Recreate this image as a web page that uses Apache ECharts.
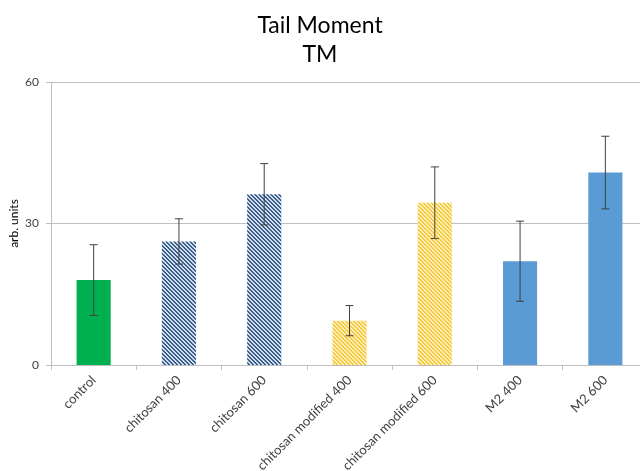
<!DOCTYPE html>
<html>
<head>
<meta charset="utf-8">
<script src="https://cdn.jsdelivr.net/npm/echarts@6/dist/echarts.min.js"></script>
<style>
  html, body { margin: 0; padding: 0; background: #fff; }
  #chart { width: 640px; height: 471px; }
</style>
</head>
<body>
<div id="chart"></div>
<script>
// Tail moment per treatment group, mean and error (±)
const categories = ['control', 'chitosan 400', 'chitosan 600', 'chitosan modified 400',
                    'chitosan modified 600', 'M2 400', 'M2 600'];
const means = [18.0, 26.2, 36.2, 9.4, 34.4, 22.0, 40.8];
const errors = [7.5, 4.8, 6.5, 3.2, 7.6, 8.5, 7.7];
const yTicks = [0, 30, 60];

// Diagonal hatch fill built on a small canvas tile
function hatch(dark, light) {
  const size = 4;
  const c = document.createElement('canvas');
  c.width = size; c.height = size;
  const ctx = c.getContext('2d');
  ctx.fillStyle = light;
  ctx.fillRect(0, 0, size, size);
  ctx.fillStyle = dark;
  for (let i = 0; i < size; i++) {
    ctx.fillRect(i, i, 1, 1);
    ctx.fillRect((i + 1) % size, i, 1, 1);
  }
  return { image: c, repeat: 'repeat' };
}

const blueHatch = hatch('#3a5f8c', '#d3deec');
const yellowHatch = hatch('#f5c842', '#fff0b8');
const fills = ['#00b050', blueHatch, blueHatch, yellowHatch, yellowHatch, '#5b9bd5', '#5b9bd5'];

const font = 'Lato, "Open Sans", sans-serif';

const chart = echarts.init(document.getElementById('chart'), null, { renderer: 'canvas' });
chart.setOption({
  animation: false,
  backgroundColor: '#ffffff',
  title: {
    text: 'Tail Moment\nTM',
    left: 'center',
    top: 6,
    textStyle: { fontFamily: font, fontSize: 23, fontWeight: 'normal', color: '#000', lineHeight: 29 }
  },
  grid: { left: 51, top: 82, right: -8, bottom: 106, containLabel: false, outerBoundsMode: 'none' },
  xAxis: {
    type: 'category',
    data: categories,
    axisLine: { lineStyle: { color: '#bfbfbf' } },
    axisTick: { show: true, length: 5, lineStyle: { color: '#bfbfbf' }, alignWithLabel: false },
    axisLabel: { rotate: 45, interval: 0, margin: 13, color: '#404040', fontFamily: font, fontSize: 13 }
  },
  yAxis: {
    type: 'value',
    min: yTicks[0],
    max: yTicks[yTicks.length - 1],
    interval: 30,
    name: 'arb. units',
    nameLocation: 'middle',
    nameGap: 31,
    nameMoveOverlap: false,
    nameRotate: 90,
    nameTextStyle: { fontFamily: font, fontSize: 12, color: '#000' },
    axisLine: { show: true, lineStyle: { color: '#bfbfbf' } },
    axisTick: { show: true, length: 5, lineStyle: { color: '#bfbfbf' } },
    axisLabel: { margin: 12, color: '#404040', fontFamily: font, fontSize: 12 },
    splitLine: { lineStyle: { color: '#bfbfbf' } }
  },
  series: [
    {
      type: 'bar',
      barWidth: '40%',
      data: means.map((v, i) => ({ value: v, itemStyle: { color: fills[i] } }))
    },
    {
      type: 'custom',
      z: 5,
      data: means.map((v, i) => [i, v - errors[i], v + errors[i]]),
      renderItem: function (params, api) {
        const lo = api.coord([api.value(0), api.value(1)]);
        const hi = api.coord([api.value(0), api.value(2)]);
        const half = 4;
        const style = { stroke: '#404040', lineWidth: 1 };
        return {
          type: 'group',
          children: [
            { type: 'line', shape: { x1: hi[0], y1: hi[1], x2: lo[0], y2: lo[1] }, style },
            { type: 'line', shape: { x1: hi[0] - half, y1: hi[1], x2: hi[0] + half, y2: hi[1] }, style },
            { type: 'line', shape: { x1: lo[0] - half, y1: lo[1], x2: lo[0] + half, y2: lo[1] }, style }
          ]
        };
      }
    }
  ]
});
</script>
</body>
</html>
